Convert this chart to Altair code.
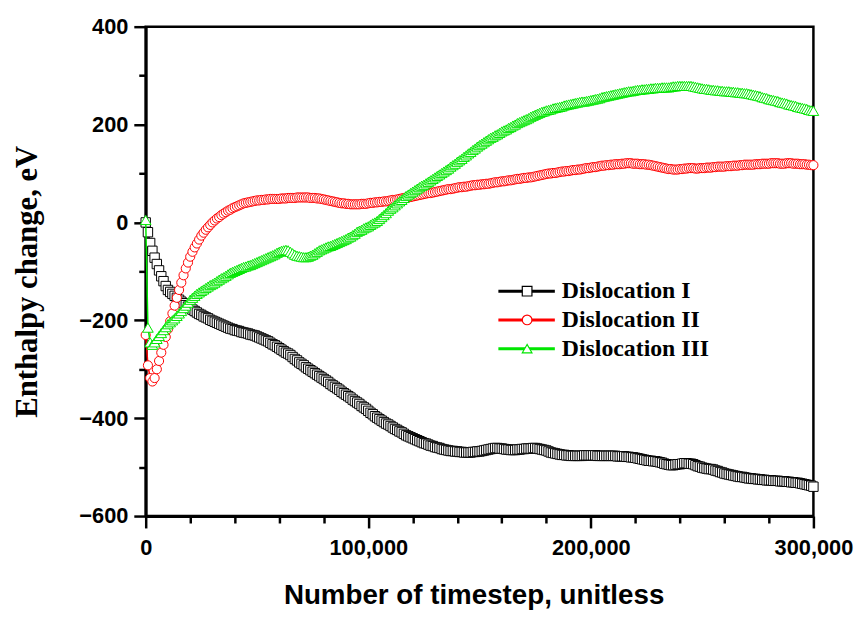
import altair as alt
import pandas as pd

# sampling grid (timesteps)
STEPS = list(range(0, 300001, 1000))

SERIES = ["Dislocation I", "Dislocation II", "Dislocation III"]
COLORS = ["#000000", "#ff0000", "#00e600"]
SHAPES = ["square", "circle", "triangle-up"]

DISLOCATION_I = [
    0,
    -20, -42, -58, -72, -85, -98, -110, -120, -130, -138,
    -142, -146, -150, -154, -158, -162, -165, -169, -172, -175,
    -178, -181, -184, -187, -189, -192, -194, -196, -199, -201,
    -203, -205, -207, -209, -211, -213, -215, -217, -218, -220,
    -221, -222, -224, -225, -226, -227, -229, -230, -231, -233,
    -235, -237, -239, -241, -243, -246, -249, -251, -254, -257,
    -260, -263, -266, -268, -271, -275, -279, -282, -286, -289,
    -292, -296, -299, -302, -305, -308, -311, -314, -317, -320,
    -323, -326, -330, -333, -336, -339, -342, -346, -349, -352,
    -355, -358, -362, -365, -368, -371, -375, -378, -381, -385,
    -389, -392, -396, -399, -402, -405, -408, -411, -413, -416,
    -419, -422, -424, -427, -429, -432, -435, -437, -439, -441,
    -443, -445, -447, -449, -451, -452, -454, -456, -457, -459,
    -460, -461, -463, -464, -465, -466, -467, -467, -468, -468,
    -469, -469, -470, -470, -470, -470, -469, -469, -468, -468,
    -467, -466, -465, -464, -463, -462, -461, -461, -462, -462,
    -463, -464, -464, -465, -465, -465, -464, -464, -463, -463,
    -462, -462, -462, -461, -461, -462, -463, -464, -465, -466,
    -468, -470, -471, -472, -473, -474, -475, -475, -476, -476,
    -477, -477, -477, -477, -477, -477, -476, -476, -476, -476,
    -476, -476, -477, -477, -477, -477, -477, -477, -477, -477,
    -477, -478, -478, -478, -478, -479, -479, -480, -480, -481,
    -482, -483, -484, -485, -486, -487, -487, -488, -488, -489,
    -490, -491, -493, -494, -495, -496, -496, -495, -494, -494,
    -493, -492, -492, -493, -493, -494, -496, -498, -499, -501,
    -502, -503, -504, -504, -505, -507, -508, -510, -511, -513,
    -514, -515, -516, -517, -518, -519, -520, -520, -521, -522,
    -523, -523, -524, -524, -525, -525, -526, -526, -527, -527,
    -527, -528, -528, -528, -529, -529, -529, -530, -530, -531,
    -531, -532, -532, -533, -534, -535, -536, -537, -538, -540,
]

DISLOCATION_II = [
    -230,
    -292, -318, -325, -318, -300, -283, -266, -250, -234, -218,
    -202, -186, -170, -154, -138, -123, -108, -94, -82, -70,
    -60, -51, -43, -35, -27, -21, -15, -10, -5, 0,
    4, 8, 11, 15, 18, 21, 24, 26, 29, 31,
    33, 35, 37, 39, 40, 41, 42, 43, 44, 45,
    45, 46, 46, 47, 47, 48, 48, 48, 48, 48,
    49, 49, 49, 50, 50, 50, 50, 51, 51, 51,
    51, 51, 51, 50, 50, 50, 49, 49, 48, 47,
    46, 45, 44, 43, 42, 41, 40, 39, 39, 38,
    38, 37, 37, 37, 37, 37, 38, 38, 38, 39,
    40, 40, 41, 41, 42, 42, 43, 43, 44, 45,
    46, 46, 47, 48, 49, 50, 51, 51, 52, 53,
    54, 55, 56, 57, 58, 59, 60, 60, 61, 62,
    63, 64, 65, 66, 67, 68, 68, 69, 70, 71,
    72, 72, 73, 73, 74, 75, 76, 76, 77, 77,
    78, 78, 79, 79, 80, 81, 82, 82, 83, 84,
    84, 85, 86, 86, 87, 88, 89, 89, 90, 91,
    91, 92, 92, 93, 94, 95, 96, 97, 98, 99,
    100, 100, 101, 101, 102, 103, 104, 104, 105, 105,
    106, 107, 107, 108, 108, 109, 110, 111, 111, 112,
    113, 113, 114, 115, 116, 116, 117, 117, 118, 118,
    119, 119, 119, 120, 120, 121, 121, 121, 120, 120,
    120, 119, 119, 119, 118, 118, 117, 116, 115, 114,
    113, 112, 111, 110, 109, 109, 108, 108, 108, 109,
    109, 110, 110, 111, 111, 111, 110, 110, 111, 111,
    111, 112, 112, 112, 113, 113, 114, 114, 114, 114,
    115, 115, 115, 116, 116, 116, 117, 117, 118, 118,
    118, 118, 118, 119, 119, 119, 120, 120, 120, 120,
    121, 121, 121, 121, 120, 120, 120, 121, 121, 121,
    120, 120, 120, 119, 119, 119, 118, 118, 117, 117,
]

DISLOCATION_III = [
    5,
    -215, -245, -250, -245, -238, -232, -226, -220, -214, -208,
    -204, -200, -196, -191, -186, -181, -175, -170, -164, -158,
    -154, -150, -146, -143, -140, -137, -134, -131, -128, -126,
    -123, -120, -117, -114, -112, -109, -106, -103, -101, -99,
    -97, -95, -93, -91, -90, -88, -87, -85, -83, -81,
    -79, -77, -75, -73, -71, -69, -67, -65, -62, -60,
    -58, -57, -56, -57, -60, -63, -66, -68, -69, -70,
    -71, -71, -70, -68, -66, -63, -60, -57, -55, -53,
    -51, -49, -48, -46, -44, -42, -40, -38, -36, -34,
    -31, -29, -26, -23, -19, -17, -15, -12, -10, -8,
    -5, -2, 0, 3, 7, 11, 15, 19, 24, 28,
    31, 35, 39, 43, 46, 50, 54, 57, 60, 63,
    66, 69, 72, 75, 77, 80, 83, 86, 89, 92,
    95, 98, 101, 104, 107, 110, 114, 117, 120, 124,
    127, 130, 134, 137, 141, 144, 148, 151, 155, 158,
    161, 164, 167, 170, 173, 175, 178, 180, 183, 186,
    188, 190, 193, 195, 198, 200, 203, 205, 207, 209,
    211, 213, 216, 218, 220, 222, 224, 226, 227, 229,
    230, 231, 233, 234, 235, 236, 237, 239, 240, 241,
    242, 243, 244, 245, 246, 247, 247, 248, 249, 250,
    251, 252, 253, 254, 256, 257, 258, 259, 260, 261,
    262, 263, 264, 265, 266, 267, 268, 268, 269, 270,
    271, 271, 272, 272, 273, 273, 274, 274, 275, 275,
    275, 276, 276, 276, 276, 277, 278, 278, 279, 279,
    279, 279, 279, 279, 279, 278, 277, 276, 275, 274,
    273, 273, 272, 271, 271, 270, 270, 269, 269, 268,
    268, 268, 267, 267, 266, 266, 265, 265, 264, 264,
    263, 262, 261, 260, 259, 258, 256, 255, 254, 252,
    251, 250, 249, 248, 246, 245, 244, 243, 241, 240,
    239, 238, 236, 235, 234, 233, 232, 230, 229, 228,
]

X_TICKS = list(range(0, 300001, 20000))
Y_TICKS = list(range(-600, 401, 100))

W, H = 674, 494

x_enc = alt.X(
    "step:Q",
    scale=alt.Scale(domain=[0, 300000], nice=False, zero=False),
    axis=alt.Axis(
        values=X_TICKS,
        labelExpr="datum.value % 100000 === 0 ? format(datum.value, ',') : ''",
        tickSize={"condition": {"test": "datum.value % 100000 === 0", "value": 12}, "value": 7},
        tickWidth=2.5, tickColor="black",
        domainWidth=3, domainColor="black",
        labelFont="Liberation Sans", labelFontWeight="bold", labelFontSize=22,
        labelColor="black", labelPadding=10, labelFlush=False, labelOverlap=False,
        grid=False,
        title="Number of timestep, unitless",
        titleFont="Liberation Sans", titleFontWeight="bold", titleFontSize=28,
        titleColor="black", titleX=331, titleY=88, titleAlign="center",
        titleBaseline="alphabetic",
    ),
)

y_enc = alt.Y(
    "enthalpy:Q",
    scale=alt.Scale(domain=[-600, 400], nice=False, zero=False),
    axis=alt.Axis(
        values=Y_TICKS,
        labelExpr="datum.value % 200 === 0 ? datum.label : ''",
        format="d",
        tickSize={"condition": {"test": "datum.value % 200 === 0", "value": 12}, "value": 7},
        tickWidth=2.5, tickColor="black",
        domainWidth=3, domainColor="black",
        labelFont="Liberation Sans", labelFontWeight="bold", labelFontSize=22,
        labelColor="black", labelPadding=6, labelFlush=False, labelOverlap=False,
        grid=False,
        title="Enthalpy change, eV",
        titleFont="Liberation Serif", titleFontWeight="bold", titleFontSize=31,
        titleColor="black", titleAngle=270, titleX=-110, titleY=257,
        titleAlign="center", titleBaseline="alphabetic",
    ),
)

layers = []
for name, ys, col, shp, sz in zip(SERIES, [DISLOCATION_I, DISLOCATION_II, DISLOCATION_III],
                                  COLORS, SHAPES, [90, 85, 115]):
    df = pd.DataFrame({"step": STEPS, "enthalpy": ys, "series": name})
    line = alt.Chart(df).mark_line(color=col, strokeWidth=1.5, clip=False).encode(x=x_enc, y=y_enc)
    pts = alt.Chart(df).mark_point(
        shape=shp, size=sz, fill="white", stroke=col, strokeWidth=1,
        opacity=1, fillOpacity=1, clip=False,
    ).encode(x=x_enc, y=y_enc)
    layers += [line, pts]

# legend drawn inside the plot
LEG_Y = [267, 296, 325]
for name, col, shp, ly in zip(SERIES, COLORS, SHAPES, LEG_Y):
    ldf = pd.DataFrame({"name": [name]})
    base = alt.Chart(ldf)
    layers.append(base.mark_rule(color=col, strokeWidth=3).encode(
        x=alt.value(356), x2=alt.value(413), y=alt.value(ly)))
    layers.append(base.mark_point(shape=shp, size=95, fill="white", stroke=col,
                                  strokeWidth=1.2, opacity=1, fillOpacity=1).encode(
        x=alt.value(385), y=alt.value(ly)))
    layers.append(base.mark_text(align="left", baseline="middle", font="Liberation Serif",
                                 fontSize=24, fontWeight="bold", color="black").encode(
        x=alt.value(420), y=alt.value(ly), text="name:N"))

chart = alt.layer(*layers).properties(
    width=W, height=H,
    padding={"left": 139, "top": 16, "right": 44, "bottom": 95},
    autosize="none",
    background="white",
).configure_view(stroke="black", strokeWidth=2.5)

chart.save("out.html", embed_options={"renderer": "svg", "actions": False})
